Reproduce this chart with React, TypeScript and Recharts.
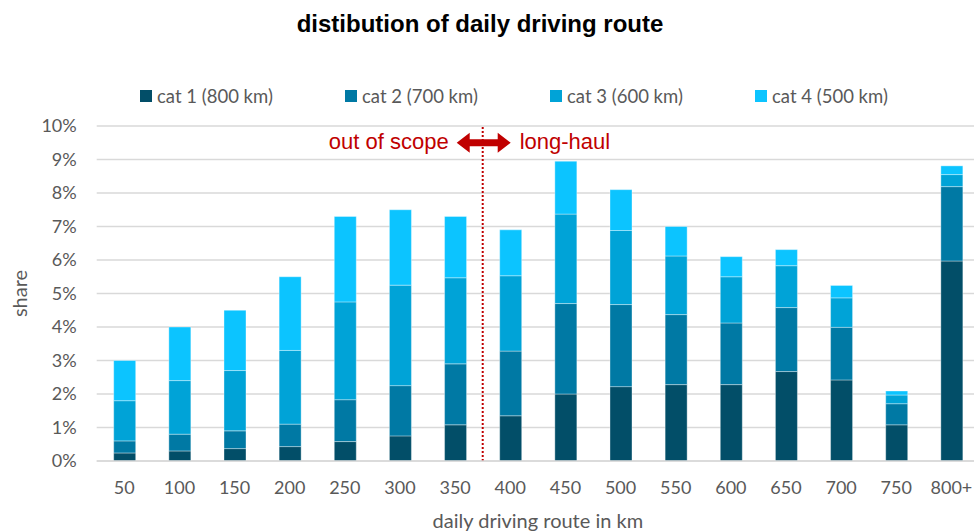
import { BarChart, Bar, XAxis, YAxis, CartesianGrid, Legend, ReferenceLine } from "recharts";

const categories = ["50", "100", "150", "200", "250", "300", "350", "400", "450", "500", "550", "600", "650", "700", "750", "800+"];
const cat1 = [0.24, 0.3, 0.37, 0.43, 0.58, 0.75, 1.08, 1.35, 2.0, 2.22, 2.28, 2.28, 2.67, 2.42, 1.08, 5.97];
const cat2 = [0.36, 0.5, 0.53, 0.67, 1.25, 1.5, 1.82, 1.93, 2.7, 2.45, 2.09, 1.84, 1.91, 1.57, 0.63, 2.22];
const cat3 = [1.2, 1.6, 1.8, 2.2, 2.92, 3.0, 2.57, 2.25, 2.67, 2.21, 1.75, 1.38, 1.25, 0.88, 0.26, 0.36];
const cat4 = [1.2, 1.6, 1.8, 2.2, 2.55, 2.25, 1.83, 1.37, 1.58, 1.22, 0.88, 0.6, 0.48, 0.37, 0.12, 0.26];
const yTicks = [0, 1, 2, 3, 4, 5, 6, 7, 8, 9, 10];

const series = [
  { key: "cat1", name: "cat 1 (800 km)", color: "#024e68" },
  { key: "cat2", name: "cat 2 (700 km)", color: "#0079a4" },
  { key: "cat3", name: "cat 3 (600 km)", color: "#00a3d7" },
  { key: "cat4", name: "cat 4 (500 km)", color: "#0cc4ff" },
];

const data = categories.map((c, i) => ({
  name: c,
  cat1: cat1[i],
  cat2: cat2[i],
  cat3: cat3[i],
  cat4: cat4[i],
}));

const TEXT = "#595959";
const RED = "#c00000";
const FONT = "Lato, 'Noto Sans', sans-serif";

function LegendContent({ payload }: any) {
  return (
    <div style={{ display: "flex", paddingLeft: 140, height: 20, alignItems: "center" }}>
      {(payload || []).map((p: any) => (
        <div key={p.value} style={{ width: 205, display: "flex", alignItems: "center", fontFamily: FONT, fontSize: 18.5, color: TEXT }}>
          <span style={{ width: 12, height: 12, background: p.color, display: "inline-block", marginRight: 5 }} />
          {p.value}
        </div>
      ))}
    </div>
  );
}

// arrow + the two red notes, drawn around the split line
function ScopeLabel({ viewBox }: any) {
  const { x, y, height } = viewBox;
  const cy = y + height * 0.05;
  const head = 13;
  const half = 10;
  const shaft = 3.5;
  const l = x - 26;
  const r = x + 28;
  const pts = [
    [l, cy],
    [l + head, cy - half],
    [l + head, cy - shaft],
    [r - head, cy - shaft],
    [r - head, cy - half],
    [r, cy],
    [r - head, cy + half],
    [r - head, cy + shaft],
    [l + head, cy + shaft],
    [l + head, cy + half],
  ]
    .map((p) => p.join(","))
    .join(" ");
  return (
    <g>
      <polygon points={pts} fill={RED} />
      <text x={l - 8} y={cy + 6} textAnchor="end" fill={RED} fontSize={22} fontFamily="'Liberation Sans', Arial, sans-serif">
        out of scope
      </text>
      <text x={r + 9} y={cy + 6} textAnchor="start" fill={RED} fontSize={22} fontFamily="'Liberation Sans', Arial, sans-serif">
        long-haul
      </text>
    </g>
  );
}

export default function App() {
  return (
    <div style={{ position: "absolute", left: 0, top: 0, width: 974, height: 531, overflow: "hidden", background: "#fff" }}>
      <div
        style={{
          position: "absolute",
          left: 0,
          top: 11,
          width: 960,
          textAlign: "center",
          fontFamily: "'Liberation Sans', Arial, sans-serif",
          fontWeight: "bold",
          fontSize: 24,
          lineHeight: "26px",
          color: "#000",
        }}
      >
        distibution of daily driving route
      </div>
      <BarChart
        width={990}
        height={531}
        data={data}
        margin={{ top: 86, right: 11, left: 10, bottom: 0 }}
        barSize={22}
      >
        <CartesianGrid vertical={false} stroke="#d9d9d9" strokeWidth={1.5} />
        <Legend
          verticalAlign="top"
          align="left"
          height={40}
          wrapperStyle={{ left: 0, top: 86, width: 990 }}
          content={<LegendContent />}
        />
        <XAxis
          dataKey="name"
          height={70}
          tickLine={false}
          tickMargin={14}
          axisLine={{ stroke: "#d9d9d9", strokeWidth: 1.5 }}
          tick={{ fill: TEXT, fontSize: 18, fontFamily: FONT }}
          label={{ value: "daily driving route in km", position: "insideBottom", offset: 3, fill: TEXT, fontSize: 20, fontFamily: FONT }}
        />
        <YAxis
          width={86.7}
          domain={[0, 10]}
          ticks={yTicks}
          tickFormatter={(v: number) => `${v}%`}
          axisLine={false}
          tickLine={false}
          tickMargin={14}
          tick={{ fill: TEXT, fontSize: 18, fontFamily: FONT }}
          label={{ value: "share", angle: -90, position: "insideLeft", offset: 10, fill: TEXT, fontSize: 20, fontFamily: FONT, style: { textAnchor: "middle" } }}
        />
        {series.map((s) => (
          <Bar
            key={s.key}
            dataKey={s.key}
            name={s.name}
            stackId="a"
            fill={s.color}
            stroke="rgba(255,255,255,0.45)"
            strokeWidth={0.8}
            isAnimationActive={false}
          />
        ))}
        <ReferenceLine
          x="400"
          position="start"
          stroke={RED}
          strokeWidth={2}
          strokeDasharray="2 2"
          label={<ScopeLabel />}
        />
      </BarChart>
    </div>
  );
}
